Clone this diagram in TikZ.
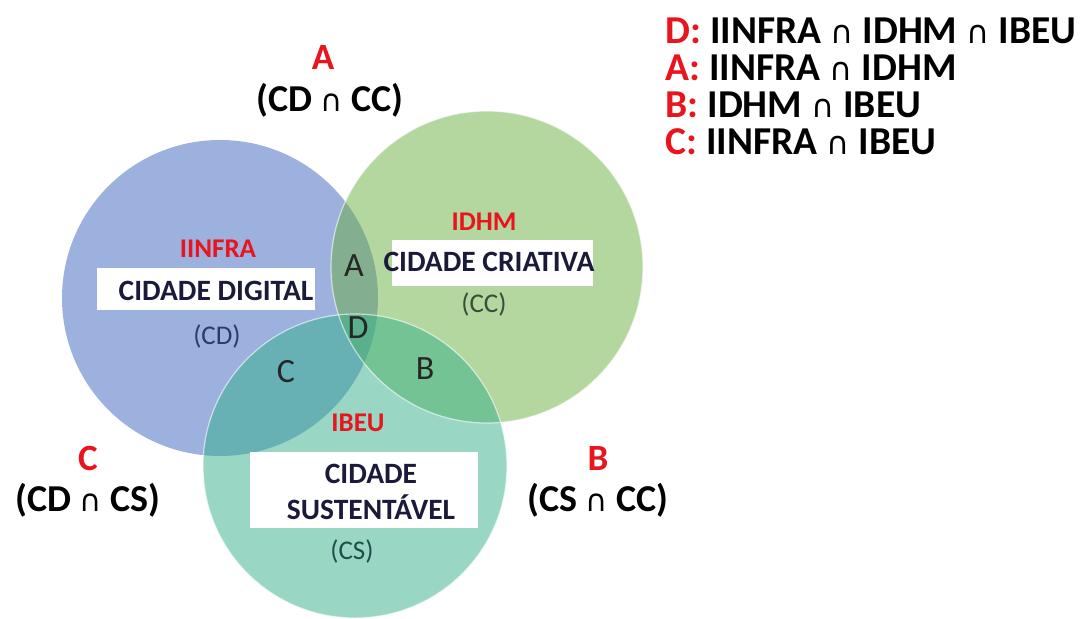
\documentclass[tikz,border=0pt]{standalone}
\usepackage{fontspec}
\setmainfont{Carlito}
\newfontfamily\symf{DejaVu Sans}
\newcommand{\isect}{{\symf\mdseries\fontsize{0.8em}{1em}\selectfont ∩}}
\definecolor{setred}{HTML}{E8141E}
\definecolor{cdblue}{HTML}{3B64C0}
\definecolor{ccgreen}{HTML}{6AAD3F}
\definecolor{csteal}{HTML}{33B08A}
\definecolor{boxtext}{HTML}{1A1A3A}
\definecolor{cdtext}{HTML}{2E3B66}
\definecolor{cctext}{HTML}{3A4D3A}
\definecolor{cstext}{HTML}{1F4D4A}
\begin{document}
\begin{tikzpicture}[x=1pt,y=-1pt,
  setcircle/.style={fill opacity=0.5},
  rim/.style={white, opacity=0.6, line width=1.2pt},
  setname/.style={text=setred, font=\bfseries\fontsize{27}{30}\selectfont},
  whitebox/.style={fill=white, inner sep=0pt},
  citytext/.style={text=boxtext, font=\bfseries\fontsize{29.5}{33}\selectfont, inner sep=0pt},
  abbrev/.style={font=\fontsize{27}{30}\selectfont},
  region/.style={font=\fontsize{34}{38}\selectfont, text=black!85},
  pairletter/.style={text=setred, font=\bfseries\fontsize{37}{40}\selectfont},
  pairtext/.style={font=\bfseries\fontsize{38}{42}\selectfont},
  legend/.style={anchor=west, font=\bfseries\fontsize{39.5}{42}\selectfont}]
\useasboundingbox (0,0) rectangle (1088,619);

% the three sets
\fill[setcircle, fill=cdblue] (220,298) circle (158);
\fill[setcircle, fill=ccgreen] (487,267) circle (156);
\fill[setcircle, fill=csteal] (355,466) circle (152);
\draw[rim] (487,267) circle (156);
\draw[rim] (355,466) circle (152);

% Cidade Digital
\node[setname] (infra) at (218,249) {IINFRA};
\node[whitebox, minimum width=218pt, minimum height=42pt] (cdbox) at (206,289) {};
\node[citytext] (cd) at (216,291) {CIDADE DIGITAL};
\node[abbrev, text=cdtext] (cdab) at (217,336) {(CD)};

% Cidade Criativa
\node[setname] (idhm) at (484,222) {IDHM};
\node[whitebox, minimum width=201pt, minimum height=46pt] (ccbox) at (492.5,263) {};
\node[citytext] (cc) at (489,262) {CIDADE CRIATIVA};
\node[abbrev, text=cctext] (ccab) at (484,304) {(CC)};

% Cidade Sustentavel
\node[setname] (ibeu) at (358,423) {IBEU};
\node[whitebox, minimum width=228pt, minimum height=76pt] (csbox) at (364,490) {};
\node[citytext] (cs1) at (371,474) {CIDADE};
\node[citytext] (cs2) at (371,507) {SUSTENTÁVEL};
\node[abbrev, text=cstext] (csab) at (352,551) {(CS)};

% intersection regions
\node[region] (ra) at (354,266) {A};
\node[region] (rd) at (358,328) {D};
\node[region] (rc) at (286,372) {C};
\node[region] (rb) at (425,369) {B};

% pairwise labels outside the circles
\node[pairletter] (la) at (323,58) {A};
\node[pairtext] (lat) at (330,100) {(CD \isect\ CC)};
\node[pairletter] (lc) at (88,458) {C};
\node[pairtext] (lct) at (88,500) {(CD \isect\ CS)};
\node[pairletter] (lb) at (598,458) {B};
\node[pairtext] (lbt) at (598,500) {(CS \isect\ CC)};

% legend
\node[legend] (l1) at (662,31) {\textcolor{setred}{D:} IINFRA \isect\ IDHM \isect\ IBEU};
\node[legend] (l2) at (662,68) {\textcolor{setred}{A:} IINFRA \isect\ IDHM};
\node[legend] (l3) at (662,105) {\textcolor{setred}{B:} IDHM \isect\ IBEU};
\node[legend] (l4) at (662,142) {\textcolor{setred}{C:} IINFRA \isect\ IBEU};
\end{tikzpicture}
\end{document}
